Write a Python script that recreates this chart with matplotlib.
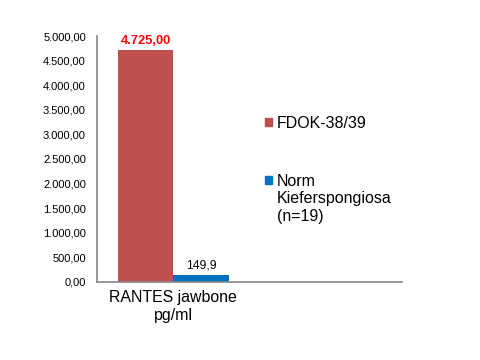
import matplotlib.pyplot as plt
from matplotlib.patches import Rectangle

categories = ["RANTES jawbone\npg/ml", ""]
series_names = ["FDOK-38/39", "Norm\nKieferspongiosa\n(n=19)"]
fdok_values = [4725.0]
norm_values = [149.9]
colors = ["#C0504D", "#0070C0"]


def de_fmt(v, decimals=2):
    s = f"{v:,.{decimals}f}"
    return s.replace(",", "X").replace(".", ",").replace("X", ".")


plt.rcParams['font.family'] = ['Liberation Sans', 'DejaVu Sans']

fig = plt.figure(figsize=(4.8, 3.6), dpi=100)
ax = fig.add_axes([0.202, 0.217, 0.636, 0.683])

width = 0.365
x = [0]
b1 = ax.bar([i - width / 2 for i in x], fdok_values, width, color=colors[0], label=series_names[0])
b2 = ax.bar([i + width / 2 for i in x], norm_values, width, color=colors[1], label=series_names[1])

for bar, v in zip(b1, fdok_values):
    ax.text(bar.get_x() + bar.get_width() / 2, v + 60, de_fmt(v), ha='center', va='bottom',
            color='#FF0000', fontsize=9.3, fontweight='bold')
for bar, v in zip(b2, norm_values):
    ax.text(bar.get_x() + bar.get_width() / 2, v + 60, de_fmt(v, 1), ha='center', va='bottom',
            color='black', fontsize=8.8)

ax.set_xlim(-0.5, 1.5)
ax.set_ylim(0, 5000)
ax.set_yticks(range(0, 5001, 500))
ax.set_yticklabels([de_fmt(t) for t in range(0, 5001, 500)], fontsize=8)
ax.set_xticks([0])
ax.set_xticklabels([categories[0]], fontsize=11.4)
ax.tick_params(length=0)
ax.tick_params(axis='y', pad=8)
ax.tick_params(axis='x', pad=6)

for s in ['top', 'right']:
    ax.spines[s].set_visible(False)
for s in ['left', 'bottom']:
    ax.spines[s].set_color('#868686')
    ax.spines[s].set_linewidth(1.2)

# legend drawn by hand so the marker sits beside the first line of each label
W, H = 480.0, 360.0
entry_y = [122, 180]
for name, col, yc in zip(series_names, colors, entry_y):
    fig.patches.append(Rectangle((265 / W, 1 - (yc + 3.5) / H), 7 / W, 7 / H,
                                 transform=fig.transFigure, color=col))
    fig.text(277 / W, 1 - (yc - 6) / H, name, ha='left', va='top', fontsize=11.5,
             linespacing=1.2)

fig.savefig('out.png', dpi=100)
